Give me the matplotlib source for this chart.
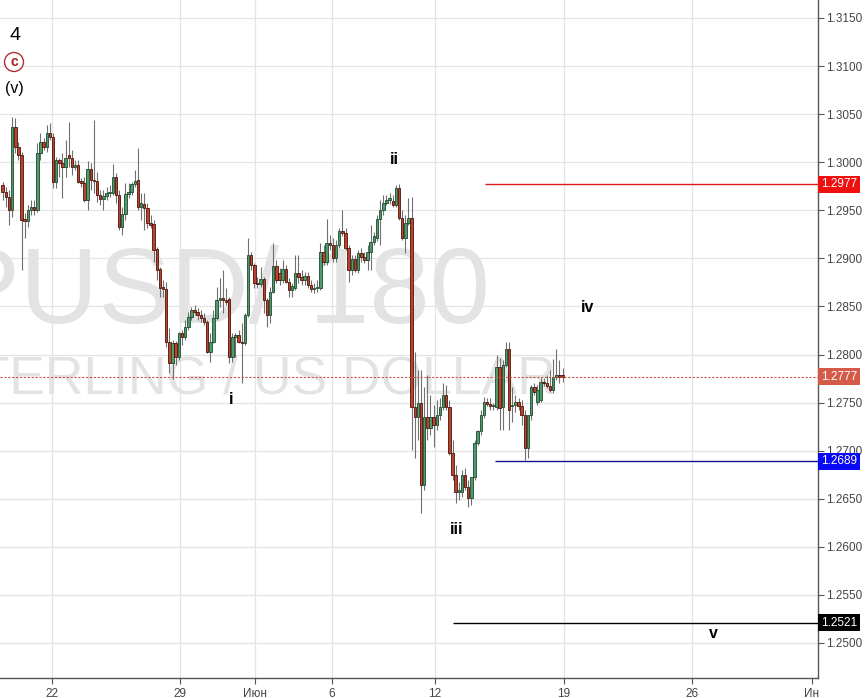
import matplotlib
matplotlib.use("Agg")
import matplotlib.pyplot as plt
from matplotlib.transforms import blended_transform_factory

plt.rcParams['font.family'] = ['Liberation Sans', 'DejaVu Sans']

# ---------------- data (3h candles, GBPUSD) ----------------
opens = [1.2976, 1.2969, 1.2964, 1.2950, 1.3037, 1.3016, 1.3008, 1.2941, 1.2939, 1.2950,
         1.2953, 1.2950, 1.3010, 1.3021, 1.3016, 1.3030, 1.3026, 1.2979, 1.3002, 1.2999,
         1.2995, 1.3008, 1.3004, 1.2995, 1.2997, 1.2980, 1.2978, 1.2961, 1.2993, 1.2982,
         1.2980, 1.2966, 1.2962, 1.2965, 1.2968, 1.2968, 1.2985, 1.2966, 1.2933, 1.2946,
         1.2967, 1.2969, 1.2977, 1.2982, 1.2953, 1.2957, 1.2952, 1.2937, 1.2936, 1.2910,
         1.2889, 1.2870, 1.2868, 1.2813, 1.2791, 1.2812, 1.2797, 1.2822, 1.2818, 1.2829,
         1.2839, 1.2846, 1.2844, 1.2841, 1.2838, 1.2834, 1.2803, 1.2813, 1.2838, 1.2857,
         1.2859, 1.2857, 1.2858, 1.2797, 1.2818, 1.2820, 1.2813, 1.2812, 1.2841, 1.2904,
         1.2893, 1.2874, 1.2873, 1.2879, 1.2857, 1.2841, 1.2865, 1.2892, 1.2885, 1.2878,
         1.2889, 1.2875, 1.2867, 1.2869, 1.2885, 1.2881, 1.2878, 1.2882, 1.2872, 1.2868,
         1.2869, 1.2869, 1.2907, 1.2896, 1.2916, 1.2914, 1.2900, 1.2914, 1.2928, 1.2926,
         1.2911, 1.2888, 1.2899, 1.2888, 1.2906, 1.2901, 1.2898, 1.2907, 1.2917, 1.2921,
         1.2941, 1.2950, 1.2958, 1.2961, 1.2960, 1.2956, 1.2973, 1.2942, 1.2921, 1.2937,
         1.2942, 1.2745, 1.2735, 1.2750, 1.2664, 1.2735, 1.2724, 1.2735, 1.2727, 1.2737,
         1.2745, 1.2758, 1.2745, 1.2698, 1.2675, 1.2657, 1.2657, 1.2675, 1.2662, 1.2651,
         1.2673, 1.2708, 1.2720, 1.2737, 1.2751, 1.2749, 1.2746, 1.2745, 1.2787, 1.2745,
         1.2789, 1.2806, 1.2746, 1.2747, 1.2751, 1.2746, 1.2737, 1.2703, 1.2737, 1.2766,
         1.2751, 1.2753, 1.2771, 1.2770, 1.2767, 1.2763, 1.2777, 1.2778, 1.2778]
highs = [1.2979, 1.2974, 1.2971, 1.3047, 1.3046, 1.3021, 1.3011, 1.2947, 1.2956, 1.2961,
         1.2961, 1.3020, 1.3030, 1.3025, 1.3039, 1.3041, 1.3030, 1.3005, 1.3004, 1.3010,
         1.3023, 1.3042, 1.3013, 1.3002, 1.3002, 1.2984, 1.2985, 1.3001, 1.2999, 1.3044,
         1.2990, 1.2971, 1.2971, 1.2974, 1.2976, 1.2998, 1.2989, 1.2971, 1.2953, 1.2978,
         1.2978, 1.2979, 1.2992, 1.3015, 1.2968, 1.2968, 1.2958, 1.2945, 1.2940, 1.2912,
         1.2891, 1.2878, 1.2875, 1.2828, 1.2815, 1.2814, 1.2823, 1.2825, 1.2836, 1.2844,
         1.2849, 1.2851, 1.2848, 1.2846, 1.2843, 1.2836, 1.2822, 1.2846, 1.2870, 1.2880,
         1.2888, 1.2869, 1.2860, 1.2822, 1.2822, 1.2825, 1.2833, 1.2843, 1.2921, 1.2907,
         1.2895, 1.2881, 1.2891, 1.2881, 1.2859, 1.2870, 1.2916, 1.2898, 1.2890, 1.2898,
         1.2893, 1.2880, 1.2874, 1.2904, 1.2904, 1.2888, 1.2886, 1.2886, 1.2878, 1.2874,
         1.2878, 1.2916, 1.2914, 1.2941, 1.2924, 1.2921, 1.2919, 1.2932, 1.2950, 1.2932,
         1.2914, 1.2904, 1.2904, 1.2909, 1.2911, 1.2907, 1.2914, 1.2935, 1.2927, 1.2945,
         1.2961, 1.2966, 1.2966, 1.2968, 1.2966, 1.2976, 1.2977, 1.2950, 1.2945, 1.2963,
         1.2964, 1.2803, 1.2784, 1.2784, 1.2766, 1.2779, 1.2758, 1.2748, 1.2753, 1.2755,
         1.2770, 1.2768, 1.2753, 1.2711, 1.2685, 1.2667, 1.2680, 1.2682, 1.2670, 1.2670,
         1.2711, 1.2722, 1.2742, 1.2756, 1.2755, 1.2755, 1.2750, 1.2799, 1.2796, 1.2794,
         1.2813, 1.2813, 1.2766, 1.2758, 1.2755, 1.2753, 1.2742, 1.2737, 1.2768, 1.2770,
         1.2768, 1.2776, 1.2776, 1.2779, 1.2784, 1.2795, 1.2806, 1.2794, 1.2786]
lows = [1.2961, 1.2953, 1.2935, 1.2943, 1.3010, 1.3002, 1.2888, 1.2921, 1.2933, 1.2945,
        1.2945, 1.2948, 1.3002, 1.3013, 1.3011, 1.3023, 1.2973, 1.2973, 1.2985, 1.2963,
        1.2985, 1.2995, 1.2987, 1.2992, 1.2978, 1.2974, 1.2959, 1.2950, 1.2971, 1.2968,
        1.2959, 1.2956, 1.2950, 1.2961, 1.2964, 1.2966, 1.2958, 1.2930, 1.2924, 1.2940,
        1.2963, 1.2966, 1.2974, 1.2950, 1.2940, 1.2930, 1.2932, 1.2932, 1.2896, 1.2878,
        1.2860, 1.2860, 1.2808, 1.2781, 1.2775, 1.2789, 1.2794, 1.2810, 1.2815, 1.2825,
        1.2836, 1.2841, 1.2836, 1.2834, 1.2831, 1.2802, 1.2792, 1.2812, 1.2836, 1.2849,
        1.2843, 1.2851, 1.2791, 1.2792, 1.2797, 1.2812, 1.2770, 1.2810, 1.2839, 1.2888,
        1.2869, 1.2869, 1.2870, 1.2843, 1.2829, 1.2833, 1.2864, 1.2874, 1.2872, 1.2874,
        1.2874, 1.2860, 1.2860, 1.2867, 1.2874, 1.2872, 1.2872, 1.2869, 1.2865, 1.2864,
        1.2865, 1.2867, 1.2893, 1.2893, 1.2909, 1.2896, 1.2896, 1.2911, 1.2923, 1.2909,
        1.2875, 1.2883, 1.2886, 1.2885, 1.2896, 1.2895, 1.2888, 1.2888, 1.2914, 1.2918,
        1.2914, 1.2945, 1.2955, 1.2957, 1.2953, 1.2953, 1.2940, 1.2919, 1.2906, 1.2935,
        1.2701, 1.2692, 1.2711, 1.2635, 1.2659, 1.2711, 1.2716, 1.2704, 1.2722, 1.2732,
        1.2742, 1.2742, 1.2695, 1.2670, 1.2646, 1.2649, 1.2652, 1.2659, 1.2641, 1.2643,
        1.2670, 1.2706, 1.2716, 1.2734, 1.2746, 1.2742, 1.2742, 1.2742, 1.2722, 1.2722,
        1.2787, 1.2722, 1.2730, 1.2740, 1.2742, 1.2727, 1.2690, 1.2692, 1.2732, 1.2758,
        1.2748, 1.2751, 1.2767, 1.2765, 1.2761, 1.2760, 1.2773, 1.2770, 1.2771]
closes = [1.2969, 1.2964, 1.2950, 1.3037, 1.3016, 1.3008, 1.2940, 1.2939, 1.2950, 1.2953,
          1.2950, 1.3010, 1.3021, 1.3016, 1.3030, 1.3026, 1.2979, 1.3002, 1.2999, 1.2995,
          1.3004, 1.3004, 1.2995, 1.2997, 1.2979, 1.2978, 1.2961, 1.2993, 1.2982, 1.2980,
          1.2966, 1.2962, 1.2965, 1.2968, 1.2969, 1.2985, 1.2966, 1.2933, 1.2946, 1.2967,
          1.2969, 1.2977, 1.2980, 1.2953, 1.2958, 1.2952, 1.2937, 1.2935, 1.2909, 1.2888,
          1.2869, 1.2868, 1.2813, 1.2791, 1.2812, 1.2797, 1.2822, 1.2818, 1.2829, 1.2839,
          1.2846, 1.2844, 1.2841, 1.2838, 1.2834, 1.2803, 1.2813, 1.2838, 1.2857, 1.2859,
          1.2857, 1.2855, 1.2797, 1.2818, 1.2820, 1.2813, 1.2812, 1.2841, 1.2904, 1.2893,
          1.2874, 1.2873, 1.2879, 1.2857, 1.2841, 1.2865, 1.2892, 1.2878, 1.2878, 1.2889,
          1.2875, 1.2867, 1.2871, 1.2885, 1.2881, 1.2878, 1.2882, 1.2872, 1.2868, 1.2869,
          1.2870, 1.2907, 1.2896, 1.2916, 1.2914, 1.2900, 1.2914, 1.2928, 1.2926, 1.2911,
          1.2888, 1.2899, 1.2888, 1.2906, 1.2901, 1.2898, 1.2907, 1.2917, 1.2923, 1.2941,
          1.2950, 1.2958, 1.2961, 1.2963, 1.2956, 1.2973, 1.2942, 1.2921, 1.2937, 1.2942,
          1.2745, 1.2735, 1.2750, 1.2664, 1.2735, 1.2724, 1.2735, 1.2727, 1.2737, 1.2745,
          1.2758, 1.2745, 1.2698, 1.2675, 1.2657, 1.2659, 1.2675, 1.2662, 1.2651, 1.2673,
          1.2708, 1.2720, 1.2737, 1.2751, 1.2749, 1.2746, 1.2747, 1.2787, 1.2744, 1.2789,
          1.2806, 1.2742, 1.2748, 1.2751, 1.2746, 1.2737, 1.2703, 1.2737, 1.2766, 1.2761,
          1.2763, 1.2771, 1.2770, 1.2767, 1.2763, 1.2777, 1.2778, 1.2777, 1.2777]

date_tick_pos = [15.67, 56.36, 80.2, 104.7, 137.4, 178.4, 219.1, 257.2]
date_tick_labels = ['22', '29', 'Июн', '6', '12', '19', '26', 'Ин']

price_ticks = [1.2500, 1.2550, 1.2600, 1.2650, 1.2700, 1.2750, 1.2800, 1.2850,
               1.2900, 1.2950, 1.3000, 1.3050, 1.3100, 1.3150]

level_red = 1.2977
level_blue = 1.2689
level_black = 1.2521
level_last = 1.2777

wave_labels = ['4', '(v)', 'i', 'ii', 'iii', 'iv', 'v']

# ---------------- figure ----------------
W, H = 868, 698
fig = plt.figure(figsize=(W / 100, H / 100), dpi=100)
fig.patch.set_facecolor('white')
ax_w, ax_h = 818, 678
ax = fig.add_axes([0, (H - ax_h) / H, ax_w / W, ax_h / H])

XMIN, XMAX = -0.86, 259.2
YMIN, YMAX = 1.24636, 1.31687
ax.set_xlim(XMIN, XMAX)
ax.set_ylim(YMIN, YMAX)

def px2ax(px, py):
    return px / ax_w, 1 - py / ax_h

# grid
for p in price_ticks:
    ax.axhline(p, color='#e4e4e4', lw=0.9, zorder=0)
for p in date_tick_pos[:-1]:
    ax.axvline(p, color='#e4e4e4', lw=0.9, zorder=0)

# watermark
wm_col = '#e3e3e3'
x1, y1 = px2ax(490, 323)
ax.text(x1, y1, 'GBPUSD/ 180', transform=ax.transAxes, ha='right', va='baseline',
        fontsize=78, color=wm_col, zorder=0.5)
x2, y2 = px2ax(556, 394)
ax.text(x2, y2, 'POUND STERLING / US DOLLAR', transform=ax.transAxes, ha='right',
        va='baseline', fontsize=38.5, color=wm_col, zorder=0.5)

# candles
xs = list(range(len(opens)))
up_fill, up_edge = '#4f9a6b', '#1f4a2e'
dn_fill, dn_edge = '#b8442e', '#4d130a'
ax.vlines(xs, lows, highs, color='#707070', lw=0.8, zorder=2)
for i in xs:
    o, c = opens[i], closes[i]
    up = c >= o
    bottom = min(o, c)
    h = max(abs(c - o), 0.00012)
    ax.bar(i, h, bottom=bottom, width=0.78,
           color=up_fill if up else dn_fill,
           edgecolor=up_edge if up else dn_edge, linewidth=0.6, zorder=3)

# horizontal levels
ax.hlines(level_red, 153.3, XMAX, color='#d91a1a', lw=1.0, zorder=4)
ax.hlines(level_blue, 156.5, XMAX, color='#14148c', lw=1.0, zorder=4)
ax.hlines(level_black, 143.1, XMAX, color='#000000', lw=1.0, zorder=4)
ax.axhline(level_last, color='#c8553f', lw=0.8, ls=(0, (2, 1.5)), zorder=4)

# price tags on the right axis
tr = blended_transform_factory(ax.transAxes, ax.transData)
for lvl, fc in [(level_red, '#f01010'), (level_last, '#d65a48'),
                (level_blue, '#0a0af5'), (level_black, '#000000')]:
    ax.text(1.0 + 3 / ax_w, lvl, f'{lvl:.4f}', transform=tr, ha='left', va='center',
            fontsize=8.5, color='white', zorder=6, clip_on=False,
            bbox=dict(boxstyle='square,pad=0.22', fc=fc, ec='none'))

# wave labels
ax.text(*px2ax(15, 35), wave_labels[0], transform=ax.transAxes, ha='center', va='center',
        fontsize=14, color='black')
ax.text(*px2ax(14, 62), 'c', transform=ax.transAxes, ha='center', va='center',
        fontsize=10, fontweight='bold', color='#a81c1c',
        bbox=dict(boxstyle='circle,pad=0.18', fc='white', ec='#b03030', lw=1.0))
ax.text(*px2ax(14, 88), wave_labels[1], transform=ax.transAxes, ha='center', va='center',
        fontsize=11.5, color='black')
for lab, (px, py) in zip(wave_labels[2:], [(231, 400), (394, 160), (457, 530),
                                            (588, 307), (713, 634)]):
    ax.text(*px2ax(px, py), lab, transform=ax.transAxes, ha='center', va='center',
            fontsize=11.5, fontweight='bold', color='black')

# axes styling
for s in ['top', 'left']:
    ax.spines[s].set_visible(False)
for s in ['right', 'bottom']:
    ax.spines[s].set_color('#555555')
    ax.spines[s].set_linewidth(1.0)
ax.yaxis.tick_right()
ax.set_yticks(price_ticks)
ax.set_yticklabels([f'{p:.4f}' for p in price_ticks])
ax.set_xticks(date_tick_pos)
ax.set_xticklabels(date_tick_labels)
ax.tick_params(axis='y', direction='out', length=4, width=0.8, colors='#555555',
               labelsize=8.5, pad=2, labelcolor='#444444')
ax.tick_params(axis='x', direction='out', length=4, width=0.8, colors='#555555',
               labelsize=8.5, pad=3, labelcolor='#444444')
ax.set_facecolor('white')

fig.savefig('out.png', dpi=100)
